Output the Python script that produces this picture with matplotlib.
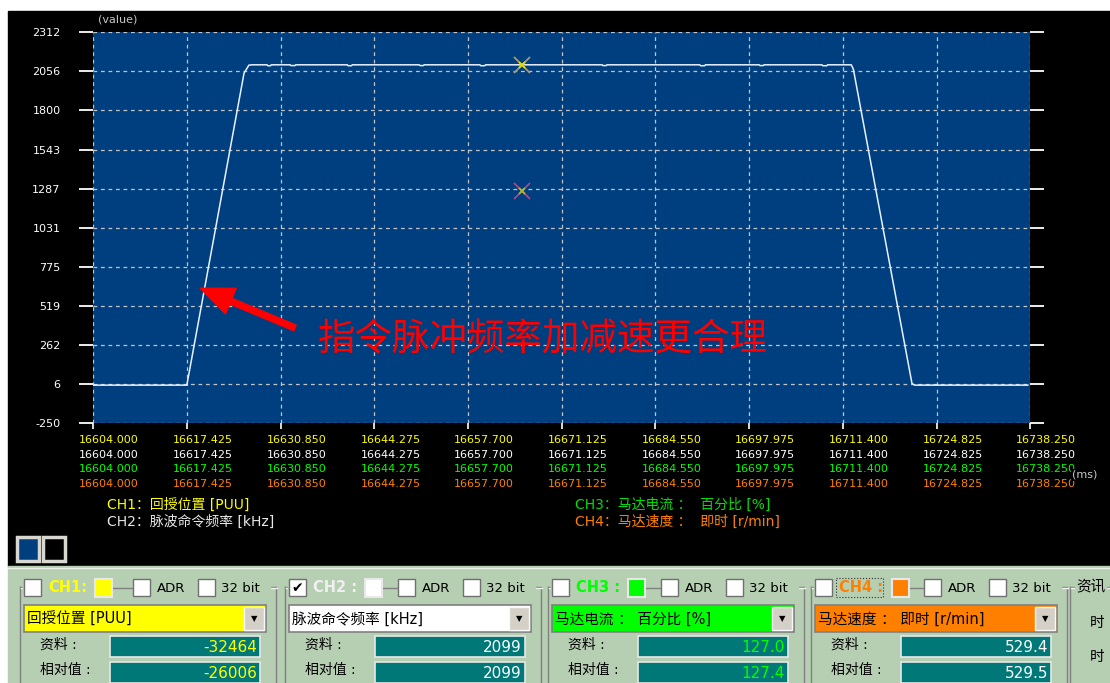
import matplotlib
matplotlib.use('Agg')
import matplotlib.pyplot as plt
import matplotlib.transforms as mtransforms
from matplotlib.patches import Rectangle

plt.rcParams['font.family'] = ['DejaVu Sans', 'Noto Sans CJK SC']

W, H = 1110, 683

# axis ticks
x_ticks = [16604.000, 16617.425, 16630.850, 16644.275, 16657.700, 16671.125,
           16684.550, 16697.975, 16711.400, 16724.825, 16738.250]
y_ticks = [-250, 6, 262, 519, 775, 1031, 1287, 1543, 1800, 2056, 2312]

# CH2 pulse command frequency trace (ms, value)
t_ms = [16604.0, 16617.4, 16625.6, 16626.3, 16626.8,
        16628.9, 16629.0, 16629.4, 16629.5,
        16632.2, 16632.3, 16632.9, 16633.0,
        16640.4, 16640.5, 16641.0, 16641.1,
        16650.7, 16650.8, 16651.3, 16651.4,
        16659.4, 16659.5, 16660.1, 16660.2,
        16676.9, 16677.0, 16677.5, 16677.6,
        16690.9, 16691.0, 16691.6, 16691.7,
        16699.4, 16699.5, 16700.0, 16700.1,
        16708.4, 16708.5, 16709.1, 16709.2,
        16712.6, 16712.9, 16721.3, 16721.7, 16737.9]
ch2_vals = [0, 0, 2045, 2097, 2099,
            2099, 2093, 2093, 2099,
            2099, 2094, 2094, 2099,
            2099, 2093, 2093, 2099,
            2099, 2094, 2094, 2099,
            2099, 2093, 2093, 2099,
            2099, 2094, 2094, 2099,
            2099, 2093, 2093, 2099,
            2099, 2094, 2094, 2099,
            2099, 2093, 2093, 2099,
            2099, 2070, 10, 0, 0]

# cursor markers
cursor_ms = 16665.4
cursor_vals = [2099, 1272]

row_colors = ['#ffff00', '#ffffff', '#00ff00', '#ff8000']

# channel panel contents
ch_names = ['CH1:', 'CH2 :', 'CH3 :', 'CH4 :']
ch_colors = ['#ffff00', '#f0f0f0', '#00ff00', '#ff8000']
ch_square = ['#ffff00', '#ffffff', '#00ff00', '#ff8000']
ch_items = ['回授位置 [PUU]', '脉波命令频率 [kHz]', '马达电流 ： 百分比 [%]', '马达速度 ： 即时 [r/min]']
ch_data = ['-32464', '2099', '127.0', '529.4']
ch_rel = ['-26006', '2099', '127.4', '529.5']
ch_val_colors = ['#ffff00', '#ffffff', '#00ff00', '#ffffff']
ch_checked = [False, True, False, False]

fig = plt.figure(figsize=(W / 100, H / 100), dpi=100, facecolor='white')

# background canvas in pixel coords
bg = fig.add_axes([0, 0, 1, 1])
bg.set_xlim(0, W)
bg.set_ylim(H, 0)
bg.axis('off')
bg.add_patch(Rectangle((8, 11), W - 8, 555, color='black'))
bg.text(98, 19, '(value)', color='#c8c8c8', fontsize=8, va='center')

# small view buttons
bg.add_patch(Rectangle((17, 537), 22, 24, facecolor='#003f7f', edgecolor='#d8d8d0', lw=2.5))
bg.add_patch(Rectangle((43, 537), 22, 24, facecolor='black', edgecolor='#d8d8d0', lw=2.5))

# bottom control panel
panel = '#b6ceb2'
bg.add_patch(Rectangle((8, 566), W - 8, H - 566, color=panel))
bg.plot([8, W], [568, 568], color='#e8f0e8', lw=1)


def checkbox(x, y, checked=False):
    bg.add_patch(Rectangle((x, y), 17, 17, facecolor='white', edgecolor='#707070', lw=1, zorder=3))
    if checked:
        bg.text(x + 8.5, y + 9, '✔', fontsize=10, ha='center', va='center', zorder=4)


def group_box(x0, x1, y0):
    bg.plot([x0, x1, x1], [y0, y0, H], color='#808080', lw=1, zorder=2)
    bg.plot([x0, x0], [y0, H], color='#808080', lw=1, zorder=2)
    bg.plot([x0 + 1, x1 + 1], [y0 + 1, y0 + 1], color='#f4f4f4', lw=1, zorder=2)


for k in range(4):
    x0 = [24, 289, 552, 815][k]
    sq = [71, 76, 76, 77][k]
    group_box(x0 - 4, x0 + 252, 587)
    bg.add_patch(Rectangle((x0 - 1, 577), x0 + 246 - (x0 - 1), 20, color=panel, zorder=2.5))
    checkbox(x0, 579, ch_checked[k])
    bg.text(x0 + 24, 588, ch_names[k], color=ch_colors[k], fontsize=10.5, fontweight='bold',
            va='center', zorder=4)
    if k == 3:
        bg.add_patch(Rectangle((x0 + 21, 578), 47, 19, fill=False, edgecolor='#303030',
                               ls=':', lw=0.8, zorder=4))
    bg.add_patch(Rectangle((x0 + sq, 579), 17, 18, facecolor=ch_square[k], edgecolor='#e8e8e8',
                           lw=1.5, zorder=4))
    bg.plot([x0 + sq + 18, x0 + 109], [588, 588], color='#808080', lw=1, zorder=3)
    checkbox(x0 + 109, 579)
    bg.text(x0 + 133, 588, 'ADR', fontsize=9.5, va='center', zorder=4)
    checkbox(x0 + 174, 579)
    bg.text(x0 + 197, 588, '32 bit', fontsize=9.5, va='center', zorder=4)

    # dropdown
    bg.add_patch(Rectangle((x0, 605), 242, 27, facecolor=ch_square[k], edgecolor='#808080',
                           lw=1.2, zorder=3))
    bg.add_patch(Rectangle((x0 + 220, 607), 20, 23, facecolor='#d4d0c8', edgecolor='#f8f8f8',
                           lw=1, zorder=4))
    bg.text(x0 + 230, 619, '▼', fontsize=6, ha='center', va='center', zorder=5)
    bg.text(x0 + 3, 619, ch_items[k], fontsize=10.5, va='center', zorder=5)

    # readouts
    bg.text(x0 + 16, 645, '资料 :', fontsize=10, va='center', zorder=4)
    bg.text(x0 + 16, 670, '相对值 :', fontsize=10, va='center', zorder=4)
    for yy, val in [(636, ch_data[k]), (662, ch_rel[k])]:
        bg.add_patch(Rectangle((x0 + 86, yy), 150, 21, facecolor='#007878', edgecolor='#e8e8e8',
                               lw=1.2, zorder=3))
        bg.text(x0 + 233, yy + 11, val, color=ch_val_colors[k], fontsize=11, ha='right',
                va='center', zorder=4)

# fifth (cut-off) group
group_box(1070, 1200, 587)
bg.text(1076, 587, '资讯', fontsize=10.5, va='center', zorder=4,
        bbox=dict(facecolor=panel, edgecolor='none', pad=1))
bg.text(1090, 622, '时', fontsize=10.5, va='center')
bg.text(1090, 656, '时', fontsize=10.5, va='center')

# main scope axes
ax = fig.add_axes([93.3 / W, 1 - 423.3 / H, 937 / W, 391 / H])
ax.set_facecolor('#003f7f')
ax.set_xlim(x_ticks[0], x_ticks[-1])
ax.set_ylim(y_ticks[0], y_ticks[-1])
for s in ax.spines.values():
    s.set_visible(False)
ax.set_xticks(x_ticks)
ax.set_yticks(y_ticks)
ax.set_yticklabels([str(v) for v in y_ticks])
ax.grid(True, color='#c4c4c4', ls=(0, (3, 3)), lw=0.9)
ax.tick_params(axis='y', left=True, right=True, direction='out', length=10, width=1.3,
               color='white', labelcolor='white', labelsize=8, pad=13.5)
ax.tick_params(axis='x', bottom=True, direction='out', length=4, width=1.2, color='white',
               labelbottom=False)

ax.plot(t_ms, ch2_vals, color='#e8f0ff', lw=1.1, zorder=3)

ax.plot([cursor_ms], [cursor_vals[0]], marker='x', ms=11, mew=1.3, color='#a89878', zorder=4)
ax.plot([cursor_ms], [cursor_vals[0]], marker='x', ms=4, mew=1.3, color='#e0e000', zorder=5)
ax.plot([cursor_ms], [cursor_vals[1]], marker='x', ms=11, mew=1.3, color='#a84888', zorder=4)
ax.plot([cursor_ms], [cursor_vals[1]], marker='x', ms=4, mew=1.3, color='#a8b830', zorder=5)

# colored x tick label rows
trans = mtransforms.blended_transform_factory(ax.transData, ax.transAxes)
trans = mtransforms.offset_copy(trans, fig=fig, x=-14, y=0, units='dots')
for c, py in zip(row_colors, [440, 455, 469.5, 484]):
    for xv in x_ticks:
        ax.text(xv, (423.3 - py) / 391, f'{xv:.3f}', color=c, fontsize=8, ha='left',
                va='center', transform=trans, clip_on=False)
ax.text((1072 - 93.3) / 937, (423.3 - 475) / 391, '(ms)', color='#c8c8c8', fontsize=8,
        transform=ax.transAxes, va='center', ha='left', clip_on=False, zorder=6,
        bbox=dict(facecolor='black', edgecolor='none', pad=0.5))

# channel legend
ax.text((107 - 93.3) / 937, (423.3 - 505) / 391, 'CH1：回授位置 [PUU]', color='#ffff00',
        fontsize=10, transform=ax.transAxes, va='center', clip_on=False)
ax.text((107 - 93.3) / 937, (423.3 - 522) / 391, 'CH2：脉波命令频率 [kHz]', color='#e8e8e8',
        fontsize=10, transform=ax.transAxes, va='center', clip_on=False)
ax.text((575 - 93.3) / 937, (423.3 - 505) / 391, 'CH3：马达电流 ：  百分比 [%]', color='#00e000',
        fontsize=10, transform=ax.transAxes, va='center', clip_on=False)
ax.text((575 - 93.3) / 937, (423.3 - 522) / 391, 'CH4：马达速度 ：  即时 [r/min]', color='#ff8000',
        fontsize=10, transform=ax.transAxes, va='center', clip_on=False)

# red annotation
ax.annotate('', xy=(16619.3, 635), xytext=(16632.9, 375),
            arrowprops=dict(arrowstyle='simple,head_length=1.2,head_width=1.0,tail_width=0.22',
                            color='#ff0000', mutation_scale=20, shrinkA=0, shrinkB=0), zorder=6)
ax.text(16636.2, 296, '指令脉冲频率加减速更合理', color='#ff0000', fontsize=27,
        family='Noto Sans CJK SC', va='center', ha='left', zorder=6)

fig.savefig('out.png', dpi=100, facecolor='white')
